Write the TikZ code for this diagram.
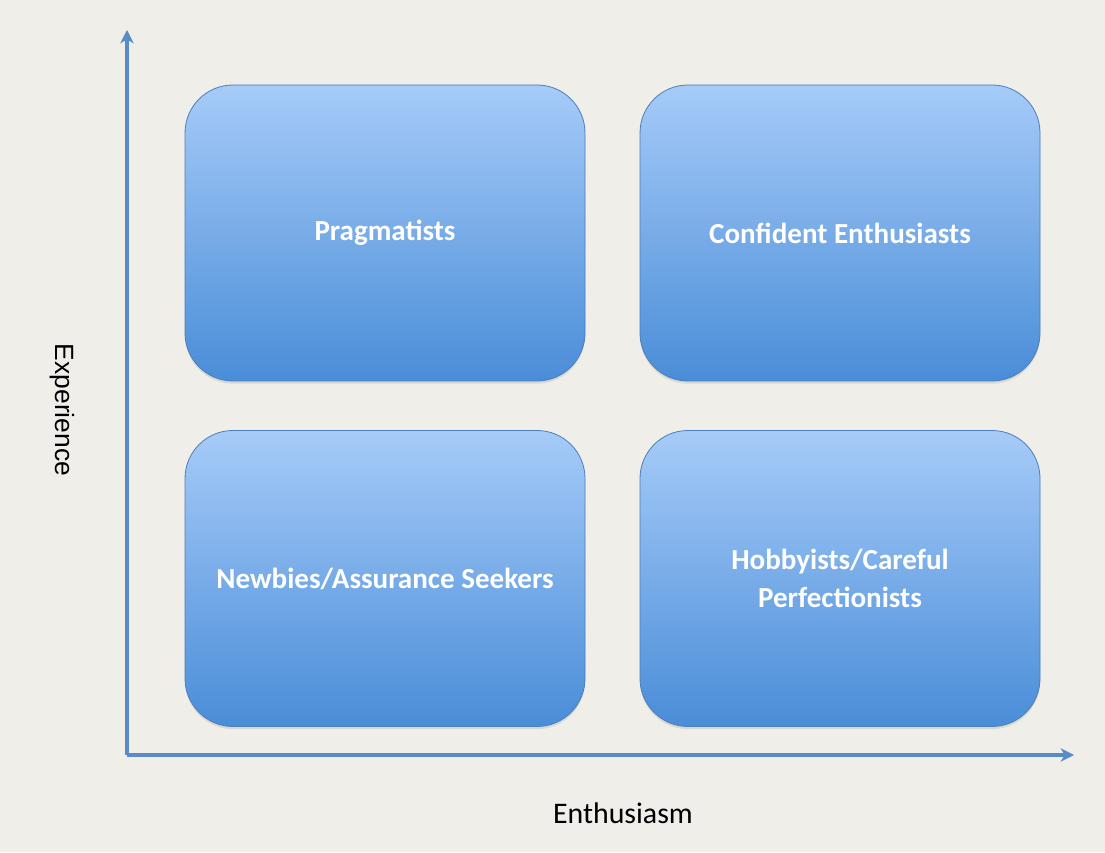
\documentclass[tikz,border=0pt]{standalone}
\usepackage{fontspec}
\setmainfont{Carlito}
\newfontfamily\axisfont{Liberation Sans}
\usetikzlibrary{arrows.meta,shadows}
\definecolor{paper}{HTML}{EFEEE8}
\definecolor{boxtop}{HTML}{A6CBF8}
\definecolor{boxbot}{HTML}{4A8DD8}
\definecolor{boxrim}{HTML}{4A7EBB}
\definecolor{axis}{HTML}{5A8BC9}
\begin{document}
\begin{tikzpicture}[x=0.75pt,y=0.75pt]
\tikzstyle{every node}=[]
\tikzstyle{quad}=[draw=boxrim, line width=0.6pt, rounded corners=36pt,
  top color=boxtop, bottom color=boxbot, minimum width=300pt, minimum height=222pt,
  text=white, font=\bfseries\fontsize{21.8}{28}\selectfont, align=center,
  drop shadow={shadow xshift=0pt, shadow yshift=-2pt, opacity=0.2}]
\tikzstyle{axisline}=[axis, line width=3pt, -{Stealth[length=10pt,width=10pt,inset=3pt]}]

\fill[paper] (0,0) rectangle (1105,852);

\node[quad] (prag) at (385,619)   {Pragmatists};
\node[quad] (conf) at (840,619)   {Confident Enthusiasts};
\node[quad] (newb) at (385,273.5) {Newbies/Assurance Seekers};
\node[quad] (hobb) at (840,273.5) {Hobbyists/Careful\\Perfectionists};

\coordinate (origin) at (127,97);
\coordinate (ytip) at (127,822);
\coordinate (xtip) at (1074,97);

\draw[axisline] (origin) -- (ytip);
\draw[axisline] (origin) -- (xtip);

\node[rotate=-90, font=\axisfont\fontsize{19.8}{23}\selectfont] (exp) at (62,442) {Experience};
\node[font=\fontsize{22.4}{26}\selectfont] (enth) at (623,39) {Enthusiasm};
\end{tikzpicture}
\end{document}
